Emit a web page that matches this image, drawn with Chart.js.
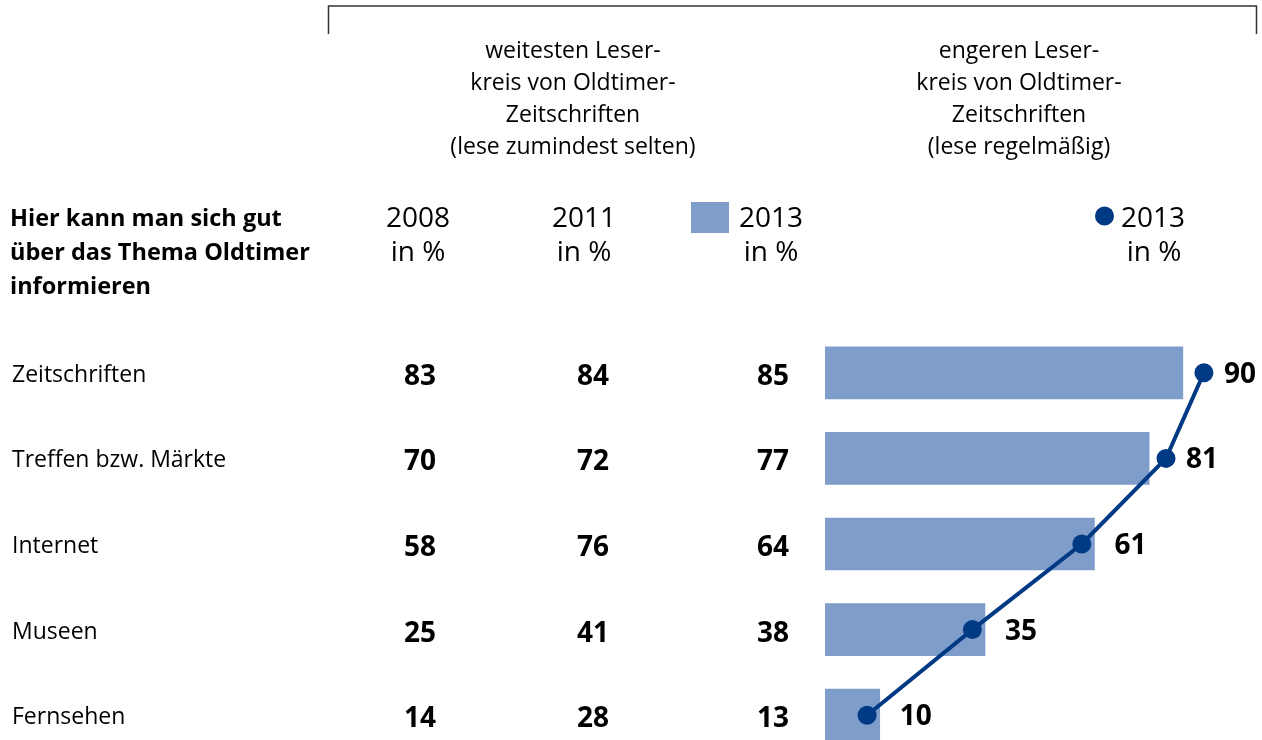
<!DOCTYPE html>
<html lang="de">
<head>
<meta charset="utf-8">
<title>Oldtimer – hier kann man sich gut informieren</title>
<script src="https://cdn.jsdelivr.net/npm/chart.js@4.4.1/dist/chart.umd.min.js"></script>
<style>
  html, body { margin: 0; padding: 0; background: #fff; overflow: hidden; }
  #wrap { width: 1262px; height: 760px; }
</style>
</head>
<body>
<div id="wrap"><canvas id="oldtimerChart" width="1262" height="760"></canvas></div>
<script>
// data
const categories = ['Zeitschriften', 'Treffen bzw. Märkte', 'Internet', 'Museen', 'Fernsehen'];
const weit2008 = [83, 70, 58, 25, 14];
const weit2011 = [84, 72, 76, 41, 28];
const weit2013 = [85, 77, 64, 38, 13];
const eng2013 = [90, 81, 61, 35, 10];

const rowTitle = ['Hier kann man sich gut', 'über das Thema Oldtimer', 'informieren'];
const groupWeit = ['weitesten Leser-', 'kreis von Oldtimer-', 'Zeitschriften', '(lese zumindest selten)'];
const groupEng = ['engeren Leser-', 'kreis von Oldtimer-', 'Zeitschriften', '(lese regelmäßig)'];
const colYears = ['2008', '2011', '2013', '2013'];
const unitLabel = 'in %';

const BAR_BLUE = '#7f9dcb';
const NAVY = '#003984';
const FONT = '"Open Sans", "Noto Sans", sans-serif';

// header, table columns and value labels
const tablePlugin = {
  id: 'tableText',
  afterDatasetsDraw(chart) {
    const ctx = chart.ctx;
    const yScale = chart.scales.y;
    ctx.save();
    ctx.fillStyle = '#000';

    // bracket over the two groups
    ctx.strokeStyle = '#333';
    ctx.lineWidth = 1.5;
    ctx.beginPath();
    ctx.moveTo(328.5, 34);
    ctx.lineTo(328.5, 6);
    ctx.lineTo(1256.5, 6);
    ctx.lineTo(1256.5, 34);
    ctx.stroke();

    // group headers
    ctx.font = '23px ' + FONT;
    ctx.textAlign = 'center';
    ctx.textBaseline = 'alphabetic';
    groupWeit.forEach((t, i) => ctx.fillText(t, 573, 58 + i * 32));
    groupEng.forEach((t, i) => ctx.fillText(t, 1019, 58 + i * 32));

    // row title
    ctx.font = 'bold 23.5px ' + FONT;
    ctx.textAlign = 'left';
    rowTitle.forEach((t, i) => ctx.fillText(t, 10, 226 + i * 34));

    // column heads
    ctx.font = '28px ' + FONT;
    ctx.textAlign = 'center';
    const headX = [418, 584, 771];
    headX.forEach((x, i) => {
      ctx.fillText(colYears[i], x, 227);
      ctx.fillText(unitLabel, x, 261);
    });
    ctx.fillStyle = BAR_BLUE;
    ctx.fillRect(691, 202, 38, 31);
    ctx.fillStyle = NAVY;
    ctx.beginPath();
    ctx.arc(1104.5, 216, 9.5, 0, Math.PI * 2);
    ctx.fill();
    ctx.fillStyle = '#000';
    ctx.textAlign = 'left';
    ctx.fillText(colYears[3], 1121, 227);
    ctx.textAlign = 'center';
    ctx.fillText(unitLabel, 1154, 261);

    // rows
    const barMeta = chart.getDatasetMeta(0);
    const lineMeta = chart.getDatasetMeta(1);
    categories.forEach((cat, i) => {
      const yc = yScale.getPixelForValue(i);
      ctx.font = '23px ' + FONT;
      ctx.textAlign = 'left';
      ctx.fillText(cat, 12, yc + 9);

      ctx.font = 'bold 28px ' + FONT;
      ctx.textAlign = 'center';
      ctx.fillText(String(weit2008[i]), 420, yc + 12);
      ctx.fillText(String(weit2011[i]), 593, yc + 12);
      ctx.fillText(String(weit2013[i]), 773, yc + 12);

      const pt = lineMeta.data[i];
      const bar = barMeta.data[i];
      const lx = Math.max(pt.x, bar.x) + 20;
      ctx.textAlign = 'left';
      ctx.fillText(String(eng2013[i]), lx, pt.y + 10);
    });
    ctx.restore();
  }
};

new Chart(document.getElementById('oldtimerChart').getContext('2d'), {
  data: {
    labels: categories,
    datasets: [
      {
        type: 'bar',
        label: 'weitester Leserkreis 2013',
        data: weit2013,
        backgroundColor: BAR_BLUE,
        borderWidth: 0,
        barThickness: 52,
        order: 1
      },
      {
        type: 'line',
        label: 'engerer Leserkreis 2013',
        data: eng2013,
        borderColor: NAVY,
        backgroundColor: NAVY,
        borderWidth: 4,
        pointRadius: 9.5,
        pointHoverRadius: 9.5,
        pointBackgroundColor: NAVY,
        pointBorderWidth: 0,
        tension: 0,
        clip: false,
        order: 0
      }
    ]
  },
  options: {
    indexAxis: 'y',
    responsive: false,
    animation: false,
    layout: { autoPadding: false, padding: { left: 825, right: 16, top: 330, bottom: 2 } },
    plugins: {
      legend: { display: false },
      tooltip: { enabled: false }
    },
    scales: {
      x: { display: false, min: 0, max: 100 },
      y: { display: false }
    }
  },
  plugins: [tablePlugin]
});
</script>
</body>
</html>
